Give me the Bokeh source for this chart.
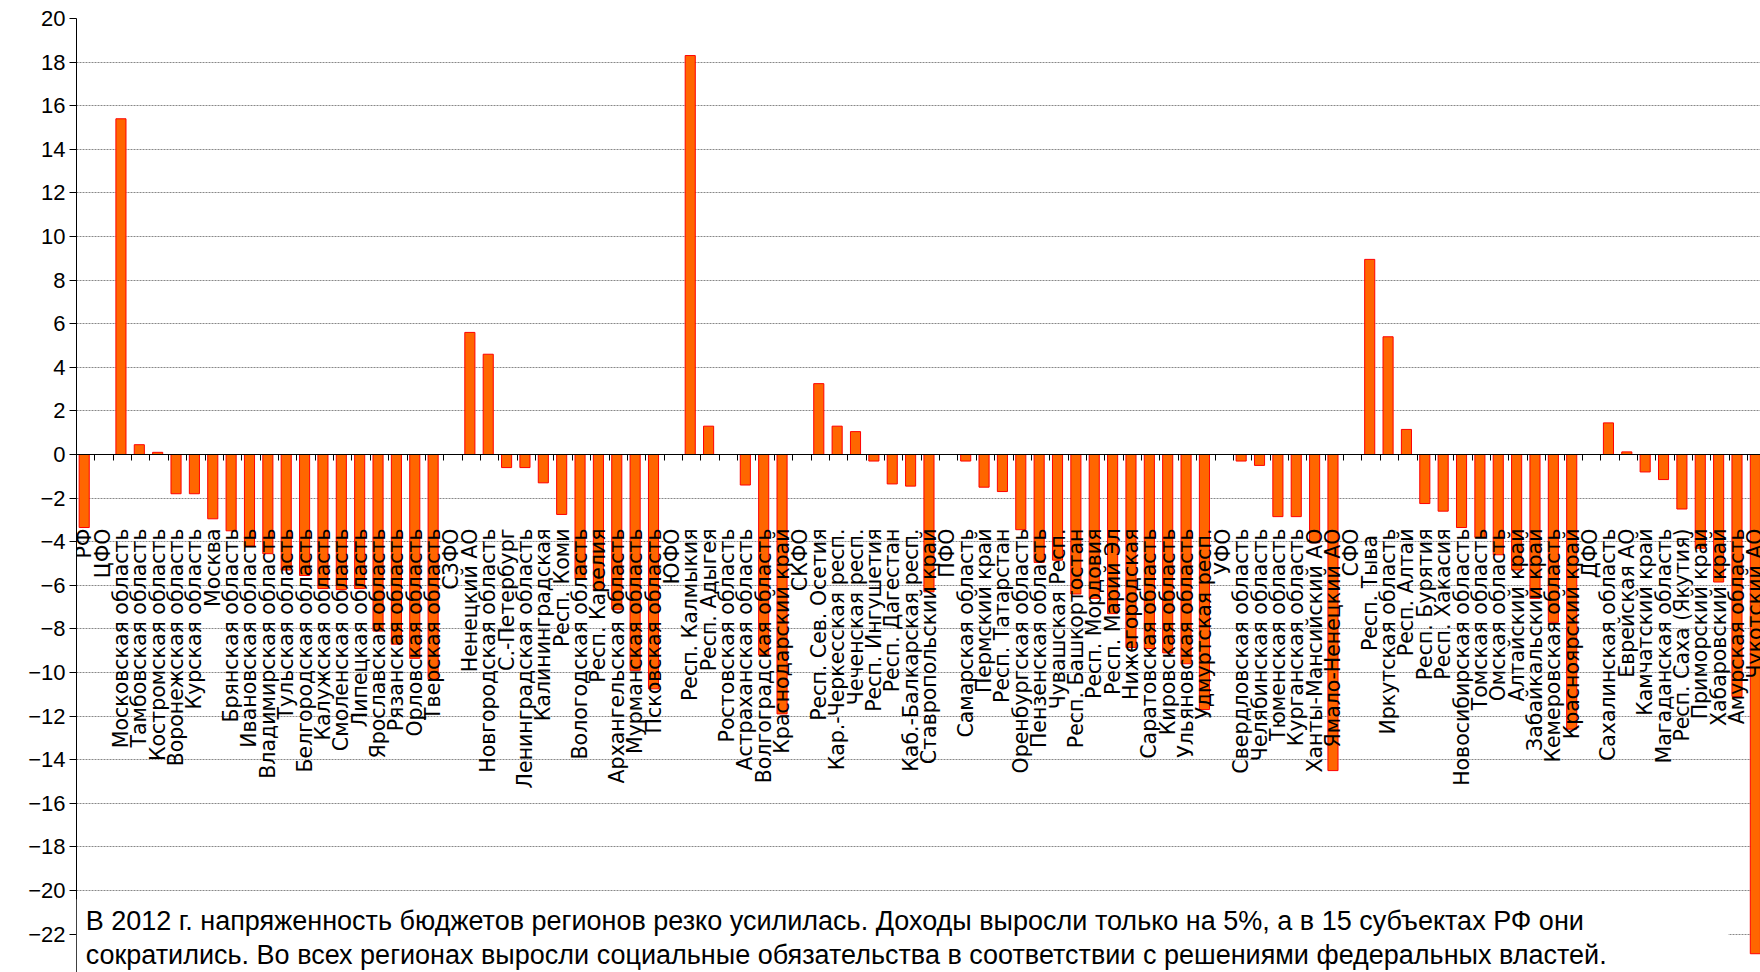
import numpy as np
from bokeh.plotting import figure
from bokeh.models import (Range1d, LinearAxis, FixedTicker, Grid, BoxAnnotation,
                          Label, ColumnDataSource)
from bokeh.core.properties import value
from bokeh.embed import file_html
from bokeh.resources import INLINE

regions = [
    "РФ", "ЦФО", "Московская область", "Тамбовская область", "Костромская область",
    "Воронежская область", "Курская область", "Москва", "Брянская область",
    "Ивановская область", "Владимирская область", "Тульская область",
    "Белгородская область", "Калужская область", "Смоленская область",
    "Липецкая область", "Ярославская область", "Рязанская область",
    "Орловская область", "Тверская область",
    "СЗФО", "Ненецкий АО", "Новгородская область", "С.-Петербург",
    "Ленинградская область", "Калининградская", "Респ. Коми", "Вологодская область",
    "Респ. Карелия", "Архангельская область", "Мурманская область", "Псковская область",
    "ЮФО", "Респ. Калмыкия", "Респ. Адыгея", "Ростовская область",
    "Астраханская область", "Волгоградская область", "Краснодарский край",
    "СКФО", "Респ. Сев. Осетия", "Кар.-Черкесская респ.", "Чеченская респ.",
    "Респ. Ингушетия", "Респ. Дагестан", "Каб.-Балкарская респ.", "Ставропольский край",
    "ПФО", "Самарская область", "Пермский край", "Респ. Татарстан",
    "Оренбургская область", "Пензенская область", "Чувашская Респ.",
    "Респ. Башкортостан", "Респ. Мордовия", "Респ. Марий Эл", "Нижегородская",
    "Саратовская область", "Кировская область", "Ульяновская область", "Удмуртская респ.",
    "УФО", "Свердловская область", "Челябинская область", "Тюменская область",
    "Курганская область", "Ханты-Мансийский АО", "Ямало-Ненецкий АО",
    "СФО", "Респ.  Тыва", "Иркутская область", "Респ. Алтай", "Респ. Бурятия",
    "Респ. Хакасия", "Новосибирская область", "Томская область", "Омская область",
    "Алтайский край", "Забайкальский край", "Кемеровская область", "Красноярский край",
    "ДФО", "Сахалинская область", "Еврейская АО", "Камчатский край",
    "Магаданская область", "Респ. Саха (Якутия)", "Приморский край",
    "Хабаровский край", "Амурская область", "Чукотский АО",
]

values = [
    -3.35, None, 15.4, 0.45, 0.1,
    -1.8, -1.8, -2.95, -3.5,
    -4.2, -4.55, -5.3,
    -5.55, -6.15, -6.2,
    -6.15, -8.1, -8.7,
    -9.35, -10.3,
    None, 5.6, 4.6, -0.6,
    -0.6, -1.3, -2.75, -5.7,
    -6.2, -7.1, -9.9, -10.75,
    None, 18.3, 1.3, 0.0,
    -1.4, -9.2, -11.9,
    None, 3.25, 1.3, 1.05,
    -0.3, -1.35, -1.45, -6.3,
    None, -0.3, -1.5, -1.7,
    -3.45, -4.95, -4.85,
    -6.4, -6.6, -7.3, -8.85,
    -8.9, -9.1, -9.6, -11.7,
    None, -0.3, -0.5, -2.85,
    -2.85, -4.05, -14.5,
    None, 8.95, 5.4, 1.15, -2.25,
    -2.6, -3.35, -3.8, -4.6,
    -5.3, -6.6, -7.7, -12.6,
    None, 1.45, 0.12, -0.8,
    -1.15, -2.5, -4.3,
    -5.85, -11.1, -22.9,
]

y_ticks = list(range(-24, 21, 2))

note_line1 = ("В 2012 г. напряженность бюджетов регионов резко усилилась. Доходы выросли "
              "только на 5%, а в 15 субъектах РФ они")
note_line2 = ("сократились. Во всех регионах выросли социальные обязательства в соответствии "
              "с решениями федеральных властей.")

n = len(regions)
vals = np.array([np.nan if v is None else v for v in values], dtype=float)
pos = np.arange(n) + 0.5
src = ColumnDataSource(dict(
    x=pos - 0.08,
    top=vals,
    name=regions,
    ly=np.zeros(n),
))

W, H = 1760, 972
top_border = 18
px_per_unit = 21.8
frame_h = H - top_border
y_start = 20 - frame_h / px_per_unit

p = figure(width=W, height=H, output_backend="svg", toolbar_location=None,
           x_range=Range1d(0, n - 0.3), y_range=Range1d(y_start, 20),
           x_axis_type=None, y_axis_type=None,
           min_border_left=76, min_border_right=0, min_border_top=top_border,
           min_border_bottom=0)
p.outline_line_color = None
p.background_fill_color = "white"

yaxis = LinearAxis(ticker=FixedTicker(ticks=y_ticks))
yaxis.major_tick_in = 0
yaxis.major_tick_out = 7
yaxis.minor_tick_line_color = None
yaxis.axis_line_color = "black"
yaxis.major_tick_line_color = "black"
yaxis.major_label_standoff = 4
yaxis.major_label_text_font = "Liberation Sans"
yaxis.major_label_text_font_size = "22px"
yaxis.major_label_text_color = "black"
p.add_layout(yaxis, "left")

grid = Grid(dimension=1, ticker=yaxis.ticker, grid_line_color="#888888",
            grid_line_dash="2 1", grid_line_width=1)
p.add_layout(grid)

p.vbar(x="x", top="top", bottom=0, width=0.55, source=src,
       fill_color="#FF6600", line_color="#FF0000", line_width=1)

xaxis = LinearAxis(ticker=FixedTicker(ticks=list(range(n + 1))), fixed_location=0)
xaxis.major_tick_in = 0
xaxis.major_tick_out = 6
xaxis.minor_tick_line_color = None
xaxis.axis_line_color = "black"
xaxis.major_tick_line_color = "black"
xaxis.major_label_text_color = None
xaxis.major_label_standoff = 0
p.add_layout(xaxis, "below")

p.text(x="x", y="ly", text="name", source=src, angle=np.pi / 2,
       y_offset=74, text_align="right", text_baseline="middle",
       text_font=value("DejaVu Sans"), text_font_size="20.5px", text_color="black")

box = BoxAnnotation(left=0, right=89.95, bottom=y_start, top=-20.4,
                    fill_color="white", fill_alpha=1.0, line_color=None)
p.add_layout(box)

for txt, yy in ((note_line1, -21.4), (note_line2, -22.95)):
    p.add_layout(Label(x=0.5, y=yy, text=txt, text_baseline="middle",
                       text_font="Liberation Sans", text_font_size="27px",
                       text_color="black"))

open("out.html", "w").write(file_html(p, INLINE))
